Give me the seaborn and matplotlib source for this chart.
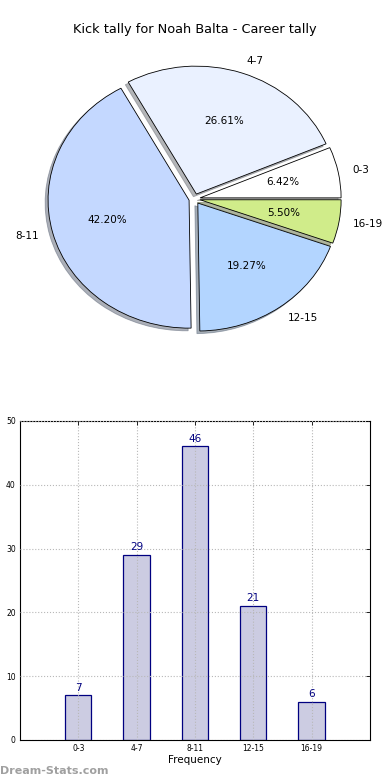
import matplotlib
matplotlib.use("Agg")
import matplotlib.pyplot as plt
import seaborn as sns

# ---- data ----
categories = ["0-3", "4-7", "8-11", "12-15", "16-19"]
counts     = [7, 29, 46, 21, 6]
pie_colors = ["#ffffff", "#eaf1ff", "#c4d8ff", "#b3d5ff", "#d0ec8a"]
y_ticks    = [0, 10, 20, 30, 40, 50]

sns.set_style("white")
plt.rcParams["font.family"] = ["DejaVu Sans"]
plt.rcParams.update({"text.color": "black", "axes.labelcolor": "black",
                     "xtick.color": "black", "ytick.color": "black"})

fig = plt.figure(figsize=(3.9, 7.8), dpi=100)

# ---- pie (old-style, not forced round) ----
ax1 = fig.add_axes([0.0468, 0.540, 0.904, 0.410])
ax1.pie(counts, labels=categories, colors=pie_colors,
        explode=[0.04] * len(counts),
        shadow={"ox": -0.015, "oy": -0.015, "shade": 0.55},
        autopct="%1.2f%%", startangle=0,
        wedgeprops=dict(edgecolor="black", linewidth=0.6),
        textprops=dict(fontsize=7.5))
ax1.set_aspect("auto")
ax1.set_xlim(-1.25, 1.25)
ax1.set_ylim(-1.25, 1.25)
fig.text(0.5, 1 - 30 / 780, "Kick tally for Noah Balta - Career tally",
         ha="center", va="center", fontsize=9.3)

# ---- bars ----
ax2 = fig.add_axes([0.0513, 0.0513, 0.897, 0.409])
sns.barplot(x=categories, y=counts, ax=ax2, width=0.45,
            color="#ccccE2", saturation=1, edgecolor="#000080", linewidth=0.9)
for i, v in enumerate(counts):
    ax2.text(i, v + 0.4, str(v), ha="center", va="bottom",
             fontsize=7.5, color="#000080")
ax2.set_xlim(-1, 5)
ax2.set_ylim(0, 50)
ax2.set_yticks(y_ticks)
ax2.grid(True, linestyle=":", color="#b8b8b8", linewidth=0.8)
ax2.set_axisbelow(False)
ax2.tick_params(direction="in", labelsize=5.5, top=True, right=True,
                length=3, width=0.6, pad=3)
for s in ax2.spines.values():
    s.set_color("black")
    s.set_linewidth(0.8)
ax2.set_xlabel("Frequency", fontsize=7.5, labelpad=1)
ax2.set_ylabel("")

fig.text(0.0, 9 / 780, "Dream-Stats.com", ha="left", va="center",
         fontsize=8, color="#a0a0a0", fontweight="bold")

fig.savefig("out.png", dpi=100, facecolor="white")
